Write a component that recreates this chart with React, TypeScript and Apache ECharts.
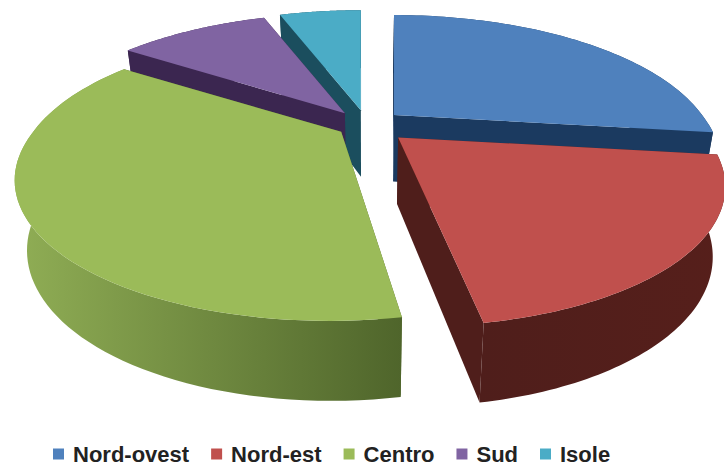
import React, { useEffect, useRef } from "react";
import * as echarts from "echarts";

// Regional shares, in percent, clockwise from twelve o'clock.
const regions = ["Nord-ovest", "Nord-est", "Centro", "Sud", "Isole"];
const shares = [27, 20.4, 37.1, 10, 5.5];
const topColors = ["#4F81BD", "#C0504D", "#9BBB59", "#8064A2", "#4BACC6"];
const edgeColors = ["#1B3A60", "#4F1E1B", "#4F652B", "#3B2650", "#1B4E5E"];
const wallFrom = ["#1B3A60", "#4F1E1B", "#90AE55", "#3B2650", "#1B4E5E"];
const wallTo = ["#1B3A60", "#561F1B", "#4F652B", "#3B2650", "#1B4E5E"];
// Back-to-front painting order of the slices, and how far each one is pulled out.
const paintOrder = [4, 3, 0, 2, 1];
const pullOut = [1, 1.2, 0.85, 1, 1];

// Perspective disk model.
const CX = 367;
const CY = 125;
const RX = 308;
const RY = 130.8;
const PERSPECTIVE = 0.308;
const THICKNESS = 66.5;
const BASE_SHRINK = 0.965;
const EXPLODE_X = 36;
const EXPLODE_Y = 15;

const total = shares.reduce((a, b) => a + b, 0);

function project(wx: number, wy: number, bottom: boolean, dx: number, dy: number): number[] {
  const s = 1 / (1 - PERSPECTIVE * wy);
  // The pull-out offset only grows towards the viewer, so rear edges stay upright.
  let x = RX * wx * s + dx * Math.max(s, 1);
  let y = RY * wy * s + dy;
  if (bottom) {
    x *= BASE_SHRINK;
    y += THICKNESS * Math.sqrt(s);
  }
  return [CX + x, CY + y];
}

function sliceShapes(index: number, value: number) {
  const before = shares.slice(0, index).reduce((a, b) => a + b, 0);
  const a0 = (before / total) * Math.PI * 2;
  const a1 = a0 + (value / total) * Math.PI * 2;
  const mid = (a0 + a1) / 2;
  const dx = EXPLODE_X * pullOut[index] * Math.sin(mid);
  const dy = -EXPLODE_Y * pullOut[index] * Math.cos(mid);

  const rim = (a: number, bottom: boolean) =>
    project(Math.sin(a), -Math.cos(a), bottom, dx, dy);
  const apexTop = project(0, 0, false, dx, dy);
  const apexBottom = project(0, 0, true, dx, dy);

  const arcTop: number[][] = [];
  const arcBottom: number[][] = [];
  const steps = 72;
  for (let i = 0; i <= steps; i++) {
    const a = a0 + ((a1 - a0) * i) / steps;
    arcTop.push(rim(a, false));
    arcBottom.push(rim(a, true));
  }

  const edge = (a: number) => ({
    type: "polygon",
    shape: { points: [apexTop, rim(a, false), rim(a, true), apexBottom] },
    style: { fill: edgeColors[index] },
  });

  const wallFill = new echarts.graphic.LinearGradient(0, 0, 1, 0, [
    { offset: 0, color: wallFrom[index] },
    { offset: 1, color: wallTo[index] },
  ]);

  return {
    type: "group",
    children: [
      edge(a0),
      edge(a1),
      {
        type: "polygon",
        shape: { points: [...arcTop, ...arcBottom.slice().reverse()] },
        style: { fill: wallFill },
      },
      {
        type: "polygon",
        shape: { points: [apexTop, ...arcTop] },
        style: { fill: topColors[index] },
      },
    ],
  };
}

export default function App() {
  const ref = useRef<HTMLDivElement>(null);

  useEffect(() => {
    const chart = echarts.init(ref.current!, undefined, { renderer: "svg" });
    chart.setOption({
      animation: false,
      backgroundColor: "#ffffff",
      legend: {
        data: regions,
        left: 48,
        top: 438,
        icon: "rect",
        itemWidth: 11,
        itemHeight: 11,
        itemGap: 22,
        textStyle: {
          fontFamily: "Liberation Sans",
          fontWeight: "bold",
          fontSize: 22,
          lineHeight: 18,
          color: "#222222",
          padding: [0, 0, 0, 4],
        },
      },
      series: regions.map((name, i) => ({
        type: "custom",
        name,
        coordinateSystem: "none",
        silent: true,
        z: 2 + paintOrder.indexOf(i),
        itemStyle: { color: topColors[i] },
        data: [shares[i]],
        renderItem: (_params: unknown, api: { value: (d: number) => number }) =>
          sliceShapes(i, api.value(0)),
      })),
    });
    return () => chart.dispose();
  }, []);

  return (
    <div
      ref={ref}
      style={{ position: "fixed", left: 0, top: 0, width: 724, height: 466 }}
    />
  );
}
